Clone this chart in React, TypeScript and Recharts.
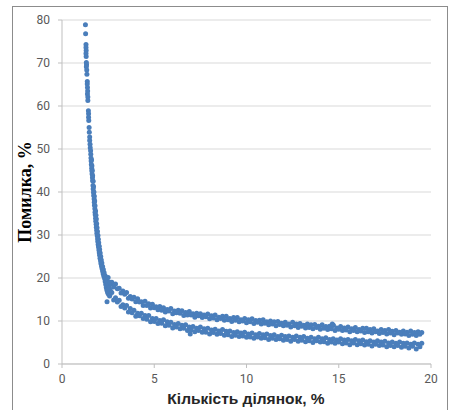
import React from 'react';
import { ScatterChart, Scatter, XAxis, YAxis, CartesianGrid } from 'recharts';

// steep head of the curve as [x, y]
const steepMain: [number, number][] = [
  [1.27, 78.9], [1.28, 76.8], [1.30, 74.3], [1.30, 73.6], [1.31, 72.9], [1.30, 72.2], [1.31, 71.5],
  [1.32, 70.1], [1.33, 69.6], [1.32, 69.1], [1.34, 68.4], [1.35, 67.4], [1.37, 65.7], [1.37, 65.1],
  [1.38, 64.3], [1.39, 63.5], [1.38, 62.8], [1.40, 62.1], [1.40, 61.3], [1.43, 58.9], [1.44, 58.2],
  [1.44, 57.4], [1.45, 56.6], [1.47, 55.0], [1.48, 53.9], [1.50, 52.8], [1.50, 52.0], [1.52, 51.1],
  [1.53, 50.3], [1.55, 49.6], [1.56, 48.8], [1.57, 47.9], [1.58, 47.2], [1.59, 46.4], [1.61, 45.5],
  [1.62, 44.9], [1.63, 44.2], [1.65, 43.3], [1.66, 42.6], [1.68, 41.5], [1.69, 40.7], [1.71, 39.9],
  [1.72, 39.2], [1.74, 38.4], [1.75, 37.6], [1.76, 36.9], [1.78, 36.1], [1.79, 35.3], [1.80, 34.7],
  [1.82, 33.9], [1.83, 33.2], [1.85, 32.5], [1.86, 31.8], [1.88, 31.1], [1.89, 30.4], [1.91, 29.8],
  [1.93, 29.1], [1.94, 28.5], [1.96, 27.8], [1.98, 27.2], [2.00, 26.5], [2.02, 25.9], [2.04, 25.3],
  [2.06, 24.6], [2.09, 24.0], [2.11, 23.4], [2.14, 22.8], [2.17, 22.2], [2.20, 21.6], [2.23, 21.0],
  [2.27, 20.4], [2.31, 19.9],
];

const steepSide: [number, number][] = [
  [1.60, 47.5], [1.62, 46.1], [1.64, 45.0], [1.66, 43.8], [1.69, 42.5], [1.71, 41.2], [1.73, 40.0],
  [1.75, 39.0], [1.77, 37.9], [1.79, 36.8], [1.82, 35.6], [1.84, 34.6], [1.86, 33.7], [1.88, 32.6],
  [1.90, 31.7], [1.92, 30.8], [1.95, 29.9], [1.97, 29.0], [1.99, 28.2], [2.02, 27.4], [2.04, 26.6],
  [2.07, 25.8], [2.10, 25.0], [2.13, 24.2], [2.16, 23.5], [2.20, 22.7], [2.24, 22.0], [2.28, 21.3],
  [2.33, 20.6], [2.38, 19.9],
];

// where the head splits into the two bands
const splitZone: [number, number][] = [
  [2.34, 19.2], [2.37, 18.5], [2.40, 17.8], [2.43, 17.2], [2.47, 16.6], [2.35, 20.3], [2.42, 19.6],
  [2.46, 18.9], [2.52, 18.3], [2.57, 17.7], [2.62, 17.1], [2.52, 16.2], [2.58, 15.8], [2.66, 18.6],
];

const strays: [number, number][] = [[2.44, 14.5], [6.95, 7.0], [14.65, 9.3], [14.7, 9.0]];

const xsA = [
  2.5, 2.7, 2.9, 3.1, 3.3, 3.5, 3.7, 3.9, 4.1, 4.3, 4.5, 4.7, 4.9, 5.1, 5.3, 5.5, 5.7, 5.9, 6.1, 6.3,
  6.5, 6.7, 6.9, 7.1, 7.3, 7.5, 7.7, 7.9, 8.1, 8.3, 8.5, 8.7, 8.9, 9.1, 9.3, 9.5, 9.7, 9.9, 10.1, 10.3,
  10.5, 10.7, 10.9, 11.1, 11.3, 11.5, 11.7, 11.9, 12.1, 12.3, 12.5, 12.7, 12.9, 13.1, 13.3, 13.5, 13.7,
  13.9, 14.1, 14.3, 14.5, 14.7, 14.9, 15.1, 15.3, 15.5, 15.7, 15.9, 16.1, 16.3, 16.5, 16.7, 16.9, 17.1,
  17.3, 17.5, 17.7, 17.9, 18.1, 18.3, 18.5, 18.7, 18.9, 19.1, 19.3, 19.5,
];

const xsB = [
  2.6, 2.8, 3.0, 3.2, 3.4, 3.6, 3.8, 4.0, 4.2, 4.4, 4.6, 4.8, 5.0, 5.2, 5.4, 5.6, 5.8, 6.0, 6.2, 6.4,
  6.6, 6.8, 7.0, 7.2, 7.4, 7.6, 7.8, 8.0, 8.2, 8.4, 8.6, 8.8, 9.0, 9.2, 9.4, 9.6, 9.8, 10.0, 10.2, 10.4,
  10.6, 10.8, 11.0, 11.2, 11.4, 11.6, 11.8, 12.0, 12.2, 12.4, 12.6, 12.8, 13.0, 13.2, 13.4, 13.6, 13.8,
  14.0, 14.2, 14.4, 14.6, 14.8, 15.0, 15.2, 15.4, 15.6, 15.8, 16.0, 16.2, 16.4, 16.6, 16.8, 17.0, 17.2,
  17.4, 17.6, 17.8, 18.0, 18.2, 18.4, 18.6, 18.8, 19.0, 19.2, 19.4,
];

const upperA = [
  20.1, 19.0, 18.6, 17.6, 17.0, 16.6, 15.7, 15.5, 15.2, 14.5, 14.6, 14.0, 13.9, 13.3, 13.4, 13.1, 12.7,
  12.9, 12.3, 12.5, 12.4, 12.0, 12.2, 11.7, 11.8, 11.7, 11.4, 11.6, 11.2, 11.4, 10.9, 11.1, 11.1, 10.6,
  10.8, 10.8, 10.3, 10.6, 10.3, 10.5, 10.1, 10.2, 10.3, 9.8, 10.0, 9.8, 9.9, 9.5, 9.7, 9.3, 9.7, 9.3,
  9.4, 9.0, 9.3, 9.1, 9.2, 8.8, 9.1, 8.7, 8.8, 9.0, 8.4, 8.7, 8.4, 8.6, 8.2, 8.5, 8.0, 8.3, 8.3, 8.0,
  8.2, 7.7, 8.0, 7.8, 8.0, 7.6, 7.8, 7.4, 7.7, 7.4, 7.7, 7.3, 7.5, 7.3,
];

const upperB = [
  19.0, 17.9, 17.5, 16.5, 16.2, 15.3, 15.1, 14.5, 14.4, 13.6, 13.6, 13.0, 13.1, 12.6, 12.5, 12.1, 12.3,
  11.7, 11.9, 11.8, 11.3, 11.4, 11.4, 10.9, 11.2, 10.8, 11.0, 10.5, 10.7, 10.3, 10.6, 10.2, 10.3, 9.9,
  10.2, 9.8, 10.0, 9.6, 9.8, 9.4, 9.7, 9.3, 9.5, 9.1, 9.3, 8.9, 9.2, 8.9, 9.0, 8.6, 8.9, 8.5, 8.8, 8.4,
  8.5, 8.2, 8.5, 8.1, 8.3, 8.0, 8.2, 7.8, 8.1, 7.8, 7.9, 7.5, 7.8, 7.5, 7.7, 7.3, 7.5, 7.2, 7.5, 7.1,
  7.3, 7.0, 7.2, 6.8, 7.2, 6.9, 7.0, 6.6, 6.9, 6.6, 6.9,
];

const lowerA = [
  17.3, 16.6, 15.4, 14.8, 13.8, 13.6, 12.9, 12.5, 11.8, 11.8, 11.3, 11.3, 10.6, 10.6, 10.1, 10.3, 9.8,
  9.7, 9.2, 9.4, 9.0, 9.1, 8.6, 8.7, 8.3, 8.6, 8.2, 8.3, 7.9, 8.1, 7.7, 8.0, 7.6, 7.7, 7.3, 7.5, 7.2,
  7.4, 7.0, 7.2, 6.8, 7.1, 6.8, 7.0, 6.6, 6.8, 6.4, 6.7, 6.4, 6.5, 6.2, 6.5, 6.2, 6.4, 6.0, 6.2, 5.9,
  6.2, 5.9, 6.1, 5.7, 5.9, 5.6, 5.9, 5.6, 5.7, 5.4, 5.7, 5.4, 5.6, 5.2, 5.4, 5.1, 5.4, 5.1, 5.3, 4.9,
  5.1, 4.8, 5.1, 4.8, 4.9, 4.6, 4.9, 4.6, 4.8,
];

const lowerB = [
  16.1, 14.9, 14.4, 13.4, 13.0, 12.1, 11.9, 11.1, 11.2, 10.6, 10.4, 9.8, 9.9, 9.4, 9.5, 8.9, 9.0, 8.4,
  8.6, 8.2, 8.3, 7.8, 7.9, 7.5, 7.8, 7.4, 7.4, 7.0, 7.3, 6.9, 7.1, 6.7, 6.8, 6.4, 6.7, 6.4, 6.5, 6.2,
  6.3, 6.0, 6.3, 6.0, 6.1, 5.7, 6.0, 5.7, 5.9, 5.5, 5.7, 5.3, 5.7, 5.3, 5.5, 5.2, 5.4, 5.0, 5.4, 5.1,
  5.2, 4.8, 5.1, 4.8, 5.1, 4.7, 4.9, 4.5, 4.9, 4.5, 4.7, 4.4, 4.6, 4.2, 4.6, 4.3, 4.4, 4.0, 4.3, 4.0,
  4.3, 3.9, 4.1, 3.7, 4.1, 3.5, 4.0,
];

const xTicks = [0, 5, 10, 15, 20];
const yTicks = [0, 10, 20, 30, 40, 50, 60, 70, 80];

const zip = (xs: number[], ys: number[]) => xs.map((x, i) => ({ x, y: ys[i] }));
const fromPairs = (list: [number, number][]) => list.map(([x, y]) => ({ x, y }));

const series = [
  fromPairs(steepMain),
  fromPairs(steepSide),
  fromPairs(splitZone),
  fromPairs(strays),
  zip(xsA, upperA),
  zip(xsB, upperB),
  zip(xsA, lowerA),
  zip(xsB, lowerB),
];

const DOT = '#4a7ebb';
const dot = (p: any) => <circle cx={p.cx} cy={p.cy} r={2.5} fill={DOT} />;

const tickStyle = { fill: '#595959', fontSize: 12, fontFamily: 'Roboto, sans-serif' };

export default function App() {
  return (
    <div style={{ position: 'absolute', left: 0, top: 0, width: 451, height: 410, overflow: 'hidden', background: '#fff' }}>
      <div style={{ position: 'absolute', left: 12, top: 6, width: 434, height: 440, border: '1px solid #8c8c8c' }} />
      <ScatterChart width={451} height={410} margin={{ top: 20, right: 20, bottom: 0, left: 12 }}>
        <CartesianGrid vertical={false} stroke="#d9d9d9" />
        <XAxis
          type="number"
          dataKey="x"
          domain={[0, 20]}
          ticks={xTicks}
          height={46}
          tickSize={4}
          tickMargin={6}
          stroke="#bfbfbf"
          tick={tickStyle}
        />
        <YAxis
          type="number"
          dataKey="y"
          domain={[0, 80]}
          ticks={yTicks}
          width={50}
          tickSize={4}
          tickMargin={8}
          stroke="#bfbfbf"
          tick={tickStyle}
        />
        {series.map((d, i) => (
          <Scatter key={i} data={d} fill={DOT} shape={dot} isAnimationActive={false} />
        ))}
      </ScatterChart>
      <div
        style={{
          position: 'absolute', left: 246, top: 399, transform: 'translate(-50%, -50%)', whiteSpace: 'nowrap',
          fontFamily: '"Liberation Sans", sans-serif', fontWeight: 'bold', fontSize: 15.5, color: '#262626',
        }}
      >
        Кількість ділянок, %
      </div>
      <div
        style={{
          position: 'absolute', left: 25, top: 192, transform: 'translate(-50%, -50%) rotate(-90deg)', whiteSpace: 'nowrap',
          fontFamily: '"Liberation Serif", serif', fontWeight: 'bold', fontSize: 18, color: '#000',
        }}
      >
        Помилка, %
      </div>
    </div>
  );
}
